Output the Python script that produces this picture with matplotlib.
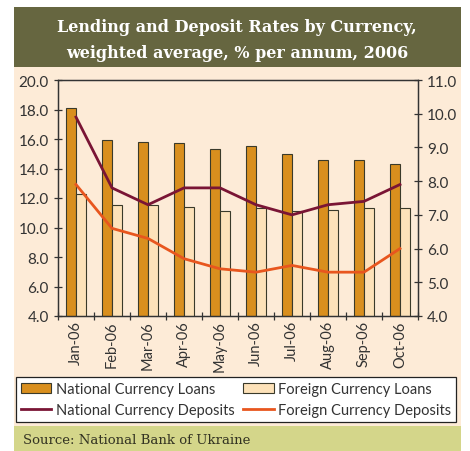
import matplotlib.pyplot as plt
from matplotlib.patches import Rectangle
from matplotlib.lines import Line2D
import numpy as np

months = ["Jan-06", "Feb-06", "Mar-06", "Apr-06", "May-06",
          "Jun-06", "Jul-06", "Aug-06", "Sep-06", "Oct-06"]
nat_loans = [18.1, 15.9, 15.8, 15.7, 15.3, 15.5, 15.0, 14.6, 14.6, 14.3]
for_loans = [12.3, 11.5, 11.5, 11.4, 11.1, 11.3, 11.1, 11.2, 11.3, 11.3]
nat_dep = [9.9, 7.8, 7.3, 7.8, 7.8, 7.3, 7.0, 7.3, 7.4, 7.9]
for_dep = [7.9, 6.6, 6.3, 5.7, 5.4, 5.3, 5.5, 5.3, 5.3, 6.0]

cream = "#fdebd7"
olive = "#666640"
green = "#d4d68a"
c_nl = "#d98f1e"
c_fl = "#fde2b9"
c_nd = "#7a1535"
c_fd = "#e8561e"
edge = "#3a3a2a"

W, H = 470, 452
fig = plt.figure(figsize=(W / 100, H / 100), dpi=100)
fig.patch.set_facecolor("white")

def box(x0, y0, x1, y1, color):
    # pixel coords from top-left
    fig.patches.append(Rectangle((x0 / W, 1 - y1 / H), (x1 - x0) / W, (y1 - y0) / H,
                                 transform=fig.transFigure, facecolor=color,
                                 edgecolor="none", zorder=-10))

box(14, 68, 461, 427, cream)
box(14, 8, 461, 68, olive)
box(14, 427, 461, 452, green)

fig.text(237 / W, 1 - 27 / H, "Lending and Deposit Rates by Currency,",
         ha="center", va="center", color="white", fontsize=11.5,
         fontweight="bold", family="DejaVu Serif")
fig.text(237 / W, 1 - 53 / H, "weighted average, % per annum, 2006",
         ha="center", va="center", color="white", fontsize=11.5,
         fontweight="bold", family="DejaVu Serif")
fig.text(23 / W, 1 - 441 / H, "Source: National Bank of Ukraine",
         ha="left", va="center", color="#333322", fontsize=9.5,
         family="DejaVu Serif")

ax = fig.add_axes([58 / W, 1 - 317 / H, 360 / W, 236 / H])
ax.set_facecolor(cream)
x = np.arange(len(months))
bw = 0.29
ax.bar(x - bw / 2, nat_loans, bw, color=c_nl, edgecolor=edge, linewidth=0.8)
ax.bar(x + bw / 2, for_loans, bw, color=c_fl, edgecolor=edge, linewidth=0.8)
ax.set_ylim(4, 20)
ax.set_yticks(np.arange(4, 21, 2))
ax.set_yticklabels([f"{v:.1f}" for v in np.arange(4, 21, 2)])
ax.set_xlim(-0.5, 9.5)
ax.set_xticks(np.arange(-0.5, 10, 1))
ax.set_xticklabels([])
ax.set_xticks(x, minor=True)
ax.set_xticklabels(months, minor=True, rotation=90)
ax.tick_params(axis="x", which="minor", length=0, pad=3)

ax2 = ax.twinx()
ax2.plot(x, nat_dep, color=c_nd, linewidth=2)
ax2.plot(x, for_dep, color=c_fd, linewidth=2)
ax2.set_ylim(4, 11)
ax2.set_yticks(np.arange(4, 12, 1))
ax2.set_yticklabels([f"{v:.1f}" for v in np.arange(4, 12, 1)])

for a in (ax, ax2):
    for s in a.spines.values():
        s.set_color("#333333")
        s.set_linewidth(0.9)
    a.tick_params(which="major", direction="inout", length=6, width=0.9,
                  color="#333333", labelsize=11, labelcolor="#333333")
    a.tick_params(which="minor", labelsize=10.5, labelcolor="#333333")
    for lab in a.get_xticklabels(which="both") + a.get_yticklabels():
        lab.set_family("Lato")

handles = [Rectangle((0, 0), 1, 1, facecolor=c_nl, edgecolor=edge, linewidth=0.8),
           Line2D([], [], color=c_nd, linewidth=2),
           Rectangle((0, 0), 1, 1, facecolor=c_fl, edgecolor=edge, linewidth=0.8),
           Line2D([], [], color=c_fd, linewidth=2)]
labels = ["National Currency Loans", "National Currency Deposits",
          "Foreign Currency Loans", "Foreign Currency Deposits"]
leg = fig.legend(handles, labels, ncol=2, loc="center",
                 bbox_to_anchor=(236 / W, 1 - 400.5 / H),
                 frameon=True, fancybox=False,
                 edgecolor="#222222", facecolor="white", framealpha=1,
                 prop={"family": "Lato", "size": 10.5}, handlelength=2.1,
                 handleheight=0.7, handletextpad=0.3, labelspacing=0.5,
                 borderaxespad=0, columnspacing=0.6, borderpad=0.3)
leg.get_frame().set_linewidth(0.9)
for t in leg.get_texts():
    t.set_color("#333333")

fig.savefig("out.png", dpi=100, facecolor=fig.get_facecolor())
